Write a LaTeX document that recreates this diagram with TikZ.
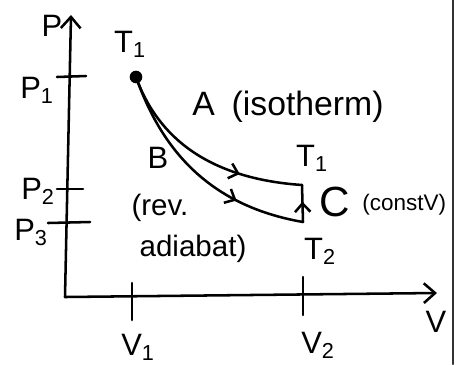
\documentclass[tikz,border=0pt]{standalone}
\usepackage{fontspec}
\setmainfont{Liberation Sans}
\usetikzlibrary{arrows.meta, decorations.markings}

\begin{document}
\begin{tikzpicture}[x=0.025cm, y=-0.025cm, line cap=round, line join=round,
  >={Straight Barb[length=8pt, width=14pt]},
  axis/.style={line width=1.8pt, ->},
  tick/.style={line width=1.8pt},
  path/.style={line width=1.8pt},
  midarr/.style={postaction={decorate},
                 decoration={markings,
                   mark=at position #1 with {\arrow{Straight Barb[length=6pt, width=11pt]}}}},
  lbl/.style={inner sep=0pt, font=\fontsize{22}{26}\selectfont},
  biglbl/.style={inner sep=0pt, font=\fontsize{30}{34}\selectfont},
  note/.style={inner sep=0pt, font=\fontsize{21}{25}\selectfont},
  small/.style={inner sep=0pt, font=\fontsize{16}{18}\selectfont},
]
\useasboundingbox (0,0) rectangle (460,364);

%% ── Axes ────────────────────────────────────────────────────────────
\coordinate (O)    at (65, 297);
\coordinate (ytip) at (71, 15);
\coordinate (xtip) at (437, 293);
\draw[axis] (O) -- (ytip);
\draw[axis] (O) -- (xtip);
\node[lbl] (P) at (52, 26)  {P};
\node[lbl] (V) at (436, 322) {V};

%% ── Ticks ───────────────────────────────────────────────────────────
\draw[tick] (57, 77)  -- (86, 76);
\draw[tick] (57, 189) -- (83, 189);
\draw[tick] (48, 223) -- (90, 222);
\draw[tick] (132, 283) -- (132, 320);
\draw[tick] (303, 277) -- (303, 315);
\node[lbl] (p1) at (37, 90)   {P\textsubscript{1}};
\node[lbl] (p2) at (38, 191)  {P\textsubscript{2}};
\node[lbl] (p3) at (31, 232)  {P\textsubscript{3}};
\node[lbl] (v1) at (138, 347) {V\textsubscript{1}};
\node[lbl] (v2) at (318, 345) {V\textsubscript{2}};

%% ── States ──────────────────────────────────────────────────────────
\node[circle, fill, inner sep=0pt, minimum size=9pt] (start) at (136, 77) {};
\coordinate (iso) at (302, 185);
\coordinate (adi) at (303, 222);
\node[lbl] (ta) at (130, 44)  {T\textsubscript{1}};
\node[lbl] (tb) at (312, 158) {T\textsubscript{1}};
\node[lbl] (tc) at (320, 251) {T\textsubscript{2}};

%% ── Processes ───────────────────────────────────────────────────────
\draw[path, midarr=0.7] (start.center)
    .. controls (155, 130) and (200, 178) .. (iso);
\draw[path, midarr=0.7] (start.center)
    .. controls (160, 145) and (205, 205) .. (adi);
\draw[path, midarr=0.55] (adi) -- (iso);

%% ── Labels ──────────────────────────────────────────────────────────
\node[note, anchor=west, font=\fontsize{24}{28}\selectfont] (A) at (192, 107) {A\hspace{0.5em}(isotherm)};
\node[lbl] (B) at (158, 158) {B};
\node[note] (rev) at (160, 208) {(rev.};
\node[note] (adb) at (193, 249) {adiabat)};
\node[biglbl] (C) at (335, 202) {C};
\node[small, anchor=west] (cv) at (362, 205) {(constV)};

%% ── Page edge ───────────────────────────────────────────────────────
\draw[line width=1.6pt, black!80] (453, 0) -- (453, 364);

\end{tikzpicture}
\end{document}
